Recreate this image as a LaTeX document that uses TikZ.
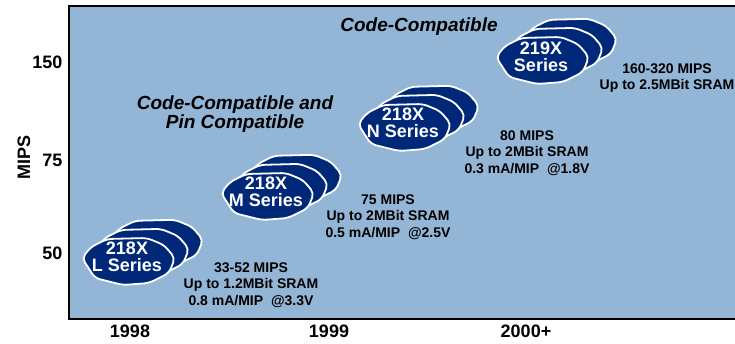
\documentclass[tikz,border=0pt]{standalone}
\usepackage{fontspec}
\setmainfont{Liberation Sans}
\definecolor{chartblue}{RGB}{147,182,214}
\definecolor{dspnavy}{RGB}{0,40,120}

% three stacked chip shapes, drawn back to front
\newcommand{\chipstack}[2]{%
  \foreach \d in {28,14,0}
    \draw[chip, shift={(#1+\d,#2-0.65*\d)}] (-45,-3) -- (-36,-14) -- (-20,-22) -- (20,-23)
      -- (37,-16) -- (48,-3) -- (42,12) -- (22,22) -- (-4,24) -- (-32,17) -- cycle;
}

\begin{document}
\begin{tikzpicture}[x=1pt, y=-1pt,
    chip/.style={fill=dspnavy, draw=white, line width=1.8pt, rounded corners=5pt},
    series/.style={text=white, align=center, font=\fontsize{18}{17}\selectfont\bfseries},
    spec/.style={align=center, font=\fontsize{14}{16.5}\selectfont\bfseries},
    tick/.style={font=\fontsize{18}{20}\selectfont\bfseries},
    caption/.style={align=center, font=\fontsize{19}{19}\selectfont\bfseries\itshape}]
  \useasboundingbox (0,0) rectangle (735,343);

% Chart area
    \fill[chartblue] (69,6) rectangle (735,319);
    \draw[line width=2.5pt] (735,6) -- (69,6) -- (69,319) -- (735,319);

% Axis labels
    \node[tick, anchor=east] (t150) at (66,62) {150};
    \node[tick, anchor=east] (t75) at (66,160) {75};
    \node[tick, anchor=east] (t50) at (66,253) {50};
    \node[tick, rotate=90] (mips) at (24,157) {MIPS};
    \node[tick] (y1998) at (130,331) {1998};
    \node[tick] (y1999) at (329,331) {1999};
    \node[tick] (y2000) at (526,331) {2000+};

% Compatibility captions
    \node[caption] (cc) at (419,27) {Code-Compatible};
    \node[caption] (ccpin) at (235,114) {Code-Compatible and\\Pin Compatible};

% Series
    \chipstack{127}{261}
    \node[series] (L) at (127,257) {218X\\L Series};
    \node[spec] (Lspec) at (251,285) {33-52 MIPS\\Up to 1.2MBit SRAM\\0.8 mA/MIP\ \ @3.3V};

    \chipstack{266}{196}
    \node[series] (M) at (266,192) {218X\\M Series};
    \node[spec] (Mspec) at (388,217) {75 MIPS\\Up to 2MBit SRAM\\0.5 mA/MIP\ \ @2.5V};

    \chipstack{403}{127}
    \node[series] (N) at (403,123) {218X\\N Series};
    \node[spec] (Nspec) at (527,153) {80 MIPS\\Up to 2MBit SRAM\\0.3 mA/MIP\ \ @1.8V};

    \chipstack{541}{60}
    \node[series] (X) at (541,57) {219X\\Series};
    \node[spec] (Xspec) at (667,78) {160-320 MIPS\\Up to 2.5MBit SRAM};

\end{tikzpicture}
\end{document}
